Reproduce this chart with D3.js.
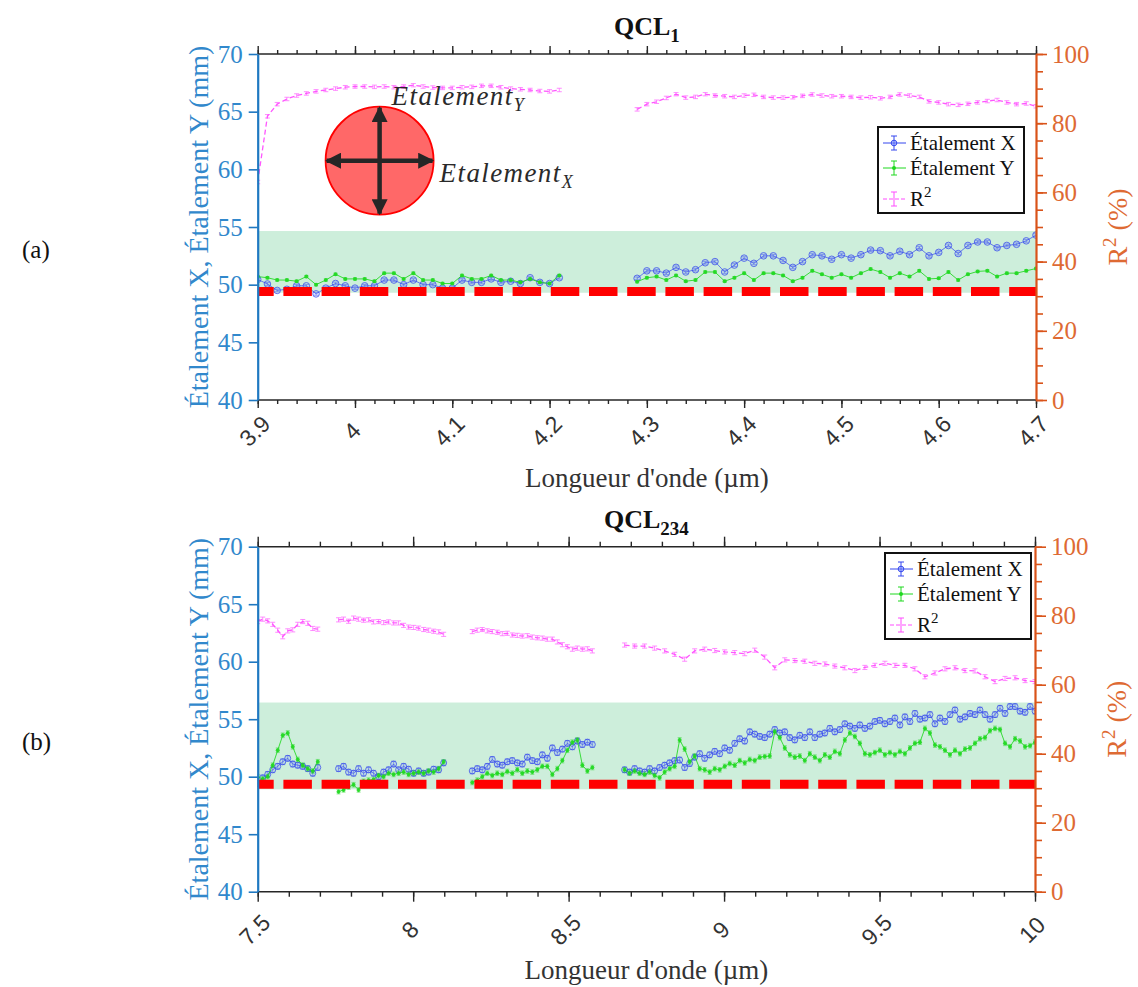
<!DOCTYPE html>
<html><head><meta charset="utf-8">
<script src="https://cdn.jsdelivr.net/npm/d3@7"></script>
<style>body{margin:0;background:#fff}svg{display:block}</style>
</head><body>
<svg id="c" width="1138" height="987"></svg>
<script>
// ---------------- DATA ----------------
// Panel (a) QCL1 : wavelength segments (µm)
const qcl1Start = [3.90, 4.29];
const qcl1Step = [0.01, 0.01];
const qcl1EtalX = [
  [50.46,50.06,49.5,49.6,49.9,49.9,49.2,49.7,50.1,49.9,49.7,49.9,49.9,50.4,50.4,50.0,50.4,50.0,50.0,49.7,49.7,50.4,50.2,50.2,50.5,50.2,50.3,50.1,50.6,50.2,50.1,50.6],
  [50.55,51.2,51.2,51.0,51.5,51.1,51.3,51.9,52.0,51.1,51.7,52.3,51.85,52.5,52.5,52.1,51.5,52.0,52.6,52.5,52.2,52.6,52.3,52.6,53.0,52.95,52.5,52.9,52.6,53.2,52.5,52.8,53.4,52.7,53.4,53.7,53.7,53.2,53.4,53.5,53.8,54.3]
];
const qcl1EtalY = [
  [50.7,50.6,50.4,50.4,50.3,50.7,50.0,50.4,50.9,50.5,50.5,50.5,50.3,51.0,51.0,50.5,51.0,50.4,50.4,50.1,50.1,50.8,50.5,50.5,50.8,50.4,50.4,50.2,50.5,50.2,50.1,50.8],
  [50.26,50.6,50.7,50.4,50.8,50.3,50.4,51.1,51.1,50.3,50.6,51.0,50.4,51.0,51.0,50.8,50.3,50.6,51.2,50.9,50.6,50.9,50.6,51.0,51.35,51.1,50.6,51.0,50.7,51.2,50.5,50.55,51.1,50.4,50.9,51.15,51.2,50.7,51.0,51.0,51.2,51.4]
];
const qcl1R2Start = [3.90, 4.29];
const qcl1R2Step = [0.01, 0.01];
const qcl1R2 = [
  [63,82,85.5,87,88,88.6,89.2,89.6,90,90.4,90.6,90.6,90.5,90.6,90.4,90.6,91,90.6,90.3,90.2,90.2,90.4,90.5,90.8,90.8,90.4,90,89.8,89.6,89.3,89.2,89.6],
  [84,85.5,86.2,87.3,88.4,87.4,87.6,88.4,88,87.8,87.6,88,88.2,87.6,87.4,87.4,87.5,87.9,88.3,88,87.8,87.8,87.6,87.4,87.5,87.2,87.6,88.3,88,87.6,86.3,86,85.5,85.3,85.6,86,86.4,86.7,86,85.5,85.7,84.9]
];
const qcl1Band = [49.3, 54.65];      // shaded tolerance band (mm)
const qcl1Limit = 49.4;              // red dashed threshold (mm)
const qcl1XMajor = [3.9,4.0,4.1,4.2,4.3,4.4,4.5,4.6,4.7];

// Panel (b) QCL234
const qcl234Start = [7.50, 7.76, 8.19, 8.68];
const qcl234Step = [0.0161, 0.0161, 0.0161, 0.0161];
const qcl234EtalX = [
  [49.4,49.9,50.2,50.6,50.9,51.3,51.6,51.1,51.0,50.9,50.7,50.3,50.8],
  [50.7,50.9,50.4,50.3,50.7,50.3,50.6,50.3,50.0,50.4,50.6,51.1,50.6,50.9,50.65,50.3,50.5,50.3,50.4,50.65,50.6,51.2],
  [50.5,50.7,50.6,50.9,51.5,51.1,51.0,51.3,51.4,51.2,51.1,51.7,51.4,51.3,51.9,51.6,52.5,52.1,52.4,52.9,52.6,53.1,52.8,53.0,52.8],
  [50.6,50.4,50.7,
   50.5,50.4,50.7,50.5,50.8,51.0,51.2,51.4,51.45,50.8,
   51.15,51.7,52.0,51.6,51.9,52.2,52.0,52.5,52.3,52.9,
   53.3,53.1,53.9,53.7,53.5,53.4,53.7,54.1,53.8,53.9,
   53.4,53.2,53.6,53.4,53.9,53.4,53.7,53.8,54.2,53.9,
   54.1,54.6,54.4,54.2,54.5,54.2,54.4,54.8,54.9,54.6,
   54.8,55.1,54.5,55.2,54.8,55.5,55.0,55.1,55.4,54.6,
   55.1,54.8,55.4,55.8,55.0,55.2,55.5,55.4,55.8,55.4,
   55.0,55.4,55.95,55.5,56.1,56.1,55.7,55.6,56.1,55.7]
];
const qcl234EtalY = [
  [50.0,49.8,50.0,51.0,52.3,53.6,53.8,52.6,51.5,51.0,50.7,50.5,51.3],
  [48.7,48.85,49.1,49.3,48.85,49.6,49.7,49.75,50.1,50.0,50.3,50.2,50.3,50.4,50.2,50.3,50.4,50.3,50.5,50.4,50.7,51.3],
  [49.5,49.7,50.0,50.3,50.1,50.3,50.2,50.45,50.3,50.6,50.3,50.5,50.4,50.6,50.9,50.9,50.2,50.7,51.4,52.3,53.0,53.2,51.0,50.5,50.8],
  [50.6,50.3,50.5,
   50.3,50.2,50.4,50.1,49.9,50.4,50.7,50.9,53.2,52.4,
   51.3,51.8,50.7,50.6,50.4,50.7,50.6,50.9,51.15,51.0,
   51.4,51.2,51.5,51.4,51.7,51.75,51.8,53.9,53.4,52.5,
   51.9,51.7,51.8,51.4,52.0,51.7,51.4,51.9,51.7,52.2,
   52.0,53.2,53.8,53.5,52.9,52.0,51.9,52.1,52.3,51.9,
   52.1,51.9,52.2,52.0,52.5,52.9,53.0,54.2,53.8,52.75,
   52.6,52.3,51.9,52.3,52.0,52.4,52.5,52.9,53.3,53.4,
   54.0,54.2,54.1,52.9,52.6,53.3,53.1,52.6,52.7,53.0]
];
const qcl234R2Start = [7.50, 7.76, 8.19, 8.68];
const qcl234R2Step = [0.0161, 0.0161, 0.0161, 0.0322];
const qcl234R2 = [
  [78.3,79.0,78.5,77.5,75.8,73.9,75.6,75.9,77.5,78.3,77.8,76.3,76.1],
  [78.8,79.0,78.4,79.3,79.0,78.7,78.8,78.2,78.3,78.0,78.2,77.9,77.9,77.2,76.7,76.6,76.4,76.0,75.8,75.5,75.3,74.6],
  [75.4,75.8,76.0,75.6,75.4,75.2,74.8,74.9,74.4,74.3,74.1,74.2,73.8,73.6,73.5,73.2,73.2,72.4,71.6,71.0,70.3,70.6,70.3,70.4,69.8],
  [71.5,71.2,71.2,70.6,69.8,68.8,67.4,69.8,70.3,69.9,69.5,69.3,69.0,70.0,68.0,64.9,67.2,67.0,66.8,66.2,66.0,65.4,64.9,64.1,65.0,65.6,66.2,65.6,65.6,64.6,62.3,63.4,64.6,64.9,64.1,64.0,62.3,60.9,61.8,62.0,61.2,60.9]
];
const qcl234Band = [48.9, 56.45];
const qcl234Limit = 49.35;
const qcl234XMajor = [7.5,8,8.5,9,9.5,10];

const yLeftTicks = [40,45,50,55,60,65,70];
const yRightMajor = [0,20,40,60,80,100];
const legendLabels = ["Étalement X","Étalement Y","R"];

// ---------------- STYLE ----------------
const SERIF = '"Liberation Serif","Times New Roman",serif';
const SANS = '"Liberation Sans",Arial,sans-serif';
const BLUE_AX = '#1f78c1', BLUE_TXT = '#3188cc';
const ORANGE = '#D95319', ORANGE_TXT = '#de6a33';
const C_X = '#3447ee', C_Y = '#1fd81f', C_R2 = '#ff4dff';

const svg = d3.select('#c');
const defs = svg.append('defs');
defs.append('marker').attr('id','ah').attr('viewBox','0 0 10 10').attr('refX',9).attr('refY',5)
  .attr('markerWidth',16).attr('markerHeight',16).attr('markerUnits','userSpaceOnUse')
  .attr('orient','auto-start-reverse')
  .append('path').attr('d','M0,0 L10,5 L0,10 z').attr('fill','#262626');

function segPoints(starts, steps, segs) {
  return segs.map((vals, si) => vals.map((v, i) => ({x: starts[si] + i * steps[si], v})));
}

function drawSeries(g, x, y, segs, st) {
  const line = d3.line().x(d => x(d.x)).y(d => y(d.v));
  segs.forEach(pts => {
    const eb = g.append('g').attr('stroke', st.color).attr('stroke-width', 0.8).attr('opacity', st.ebOp);
    pts.forEach(d => {
      const y1 = y(d.v - st.err), y2 = y(d.v + st.err), cx = x(d.x);
      eb.append('line').attr('x1', cx).attr('x2', cx).attr('y1', y1).attr('y2', y2);
      eb.append('line').attr('x1', cx - st.cap).attr('x2', cx + st.cap).attr('y1', y1).attr('y2', y1);
      eb.append('line').attr('x1', cx - st.cap).attr('x2', cx + st.cap).attr('y1', y2).attr('y2', y2);
    });
    g.append('path').datum(pts).attr('d', line).attr('fill', 'none')
      .attr('stroke', st.color).attr('stroke-width', st.lw).attr('opacity', st.lineOp)
      .attr('stroke-dasharray', st.dash || null);
    if (st.marker === 'o') {
      g.append('g').selectAll('circle').data(pts).enter().append('circle')
        .attr('cx', d => x(d.x)).attr('cy', d => y(d.v)).attr('r', st.r)
        .attr('fill', 'rgba(120,140,255,0.25)').attr('stroke', st.color).attr('stroke-width', 1).attr('opacity', 0.75);
    } else if (st.marker === 'dot') {
      g.append('g').selectAll('circle').data(pts).enter().append('circle')
        .attr('cx', d => x(d.x)).attr('cy', d => y(d.v)).attr('r', st.r)
        .attr('fill', st.color).attr('opacity', 0.9);
    }
  });
}

function panel(cfg) {
  const g = svg.append('g');
  const x = d3.scaleLinear().domain(cfg.xDomain).range([cfg.left, cfg.right]);
  const y = d3.scaleLinear().domain([40, 70]).range([cfg.bottom, cfg.top]);
  const yr = d3.scaleLinear().domain([0, 100]).range([cfg.bottom, cfg.top]);
  const cid = 'clip' + cfg.id;
  defs.append('clipPath').attr('id', cid).append('rect')
    .attr('x', cfg.left).attr('y', cfg.top).attr('width', cfg.right - cfg.left).attr('height', cfg.bottom - cfg.top);
  const plot = g.append('g').attr('clip-path', `url(#${cid})`);

  plot.append('rect').attr('x', x(cfg.xDomain[0])).attr('width', x(cfg.xDomain[1]) - x(cfg.xDomain[0]))
    .attr('y', y(cfg.band[1])).attr('height', y(cfg.band[0]) - y(cfg.band[1])).attr('fill', '#cdeedb');

  drawSeries(plot, x, yr, segPoints(cfg.r2Start, cfg.r2Step, cfg.r2), {color: C_R2, lw: 1.3, dash: '5,3', err: cfg.r2err, cap: 2.5, ebOp: 0.8, lineOp: 0.95, marker: null});
  drawSeries(plot, x, y, segPoints(cfg.start, cfg.step, cfg.ex), {color: C_X, lw: 1, err: cfg.xerr, cap: 2.5, ebOp: 0.6, lineOp: 0.7, marker: 'o', r: cfg.r});
  drawSeries(plot, x, y, segPoints(cfg.start, cfg.step, cfg.ey), {color: C_Y, lw: 1, err: cfg.yerr, cap: 2, ebOp: 0.6, lineOp: 0.85, marker: 'dot', r: 2});

  plot.append('line').attr('x1', x(cfg.xDomain[0])).attr('x2', x(cfg.xDomain[1]))
    .attr('y1', y(cfg.limit)).attr('y2', y(cfg.limit))
    .attr('stroke', '#ff0000').attr('stroke-width', 9).attr('stroke-dasharray', '28.5,9.7').attr('stroke-dashoffset', 12.5);

  const ax = g.append('g');
  function xt(vals, len, bottom) {
    const a = (bottom ? d3.axisBottom(x) : d3.axisTop(x)).tickValues(vals).tickSize(len).tickSizeOuter(0).tickFormat('');
    const s = ax.append('g').attr('transform', `translate(0,${bottom ? cfg.bottom : cfg.top})`).call(a);
    s.select('.domain').remove();
    s.selectAll('line').attr('stroke', '#262626').attr('stroke-width', 1.4);
  }
  xt(cfg.xMinor, cfg.minorLen, true); xt(cfg.xMajor, cfg.majorLen, true);
  xt(cfg.xMinor, cfg.minorLen, false); xt(cfg.xMajor, cfg.majorLen, false);
  ax.append('line').attr('x1', cfg.left).attr('x2', cfg.right).attr('y1', cfg.top).attr('y2', cfg.top).attr('stroke', '#262626').attr('stroke-width', 1.6);
  ax.append('line').attr('x1', cfg.left).attr('x2', cfg.right).attr('y1', cfg.bottom).attr('y2', cfg.bottom).attr('stroke', '#262626').attr('stroke-width', 1.6);
  ax.selectAll(null).data(cfg.xMajor).enter().append('text')
    .attr('transform', d => `translate(${x(d) - 3},${cfg.bottom + cfg.labelOff}) rotate(-45)`)
    .attr('text-anchor', 'middle').attr('dy', '0.35em')
    .attr('font-family', SANS).attr('font-size', 23).attr('fill', '#333')
    .text(d => String(+d.toFixed(1)));

  const la = ax.append('g').attr('transform', `translate(${cfg.left},0)`)
    .call(d3.axisLeft(y).tickValues(yLeftTicks).tickSize(9).tickPadding(6).tickSizeOuter(0));
  la.select('.domain').attr('stroke', BLUE_AX).attr('stroke-width', 2.2);
  la.selectAll('.tick line').attr('stroke', BLUE_AX).attr('stroke-width', 1.6);
  la.selectAll('text').attr('font-family', SERIF).attr('font-size', 25).attr('fill', BLUE_TXT);

  const rMinor = d3.range(0, 101, 5);
  const ra = ax.append('g').attr('transform', `translate(${cfg.right},0)`);
  ra.call(d3.axisRight(yr).tickValues(rMinor).tickSize(7).tickFormat('').tickSizeOuter(0));
  const ra2 = ax.append('g').attr('transform', `translate(${cfg.right},0)`)
    .call(d3.axisRight(yr).tickValues(yRightMajor).tickSize(11).tickPadding(5).tickSizeOuter(0));
  ra.select('.domain').attr('stroke', ORANGE).attr('stroke-width', 2.2);
  ra2.select('.domain').remove();
  ra.selectAll('.tick line').attr('stroke', ORANGE).attr('stroke-width', 1.6);
  ra2.selectAll('.tick line').attr('stroke', ORANGE).attr('stroke-width', 1.6);
  ra2.selectAll('text').attr('font-family', SERIF).attr('font-size', 25).attr('fill', ORANGE_TXT);

  const cy = (cfg.top + cfg.bottom) / 2;
  ax.append('text').attr('transform', `translate(${cfg.left - 50},${cy}) rotate(-90)`)
    .attr('text-anchor', 'middle').attr('font-family', SERIF).attr('font-size', 28).attr('fill', BLUE_TXT)
    .text('Étalement X, Étalement Y (mm)');
  const rt = ax.append('text').attr('transform', `translate(${cfg.right + 91},${cy}) rotate(-90)`)
    .attr('text-anchor', 'middle').attr('font-family', SERIF).attr('font-size', 28).attr('fill', ORANGE_TXT);
  rt.append('tspan').text('R');
  rt.append('tspan').attr('dy', -11).attr('font-size', 19).text('2');
  rt.append('tspan').attr('dy', 11).text(' (%)');

  ax.append('text').attr('x', (cfg.left + cfg.right) / 2).attr('y', cfg.bottom + 87)
    .attr('text-anchor', 'middle').attr('font-family', SERIF).attr('font-size', 27).attr('fill', '#333')
    .text("Longueur d'onde (µm)");

  const tt = ax.append('text').attr('x', (cfg.left + cfg.right) / 2).attr('y', cfg.top - 19)
    .attr('text-anchor', 'middle').attr('font-family', SERIF).attr('font-weight', 'bold').attr('font-size', 26).attr('fill', '#111');
  tt.append('tspan').text('QCL');
  tt.append('tspan').attr('dy', 7).attr('font-size', 19).text(cfg.sub);

  ax.append('text').attr('x', 22).attr('y', cy + 31).attr('font-family', SERIF).attr('font-size', 25).attr('fill', '#111').text(cfg.letter);

  const L = ax.append('g').attr('transform', `translate(${cfg.legX},${cfg.legY})`);
  L.append('rect').attr('width', 146).attr('height', 86).attr('fill', '#fff').attr('stroke', '#111').attr('stroke-width', 2);
  const rows = [23, 48, 79];
  const colors = [C_X, C_Y, C_R2];
  rows.forEach((ry, i) => {
    const my = ry - 7;
    L.append('line').attr('x1', 5).attr('x2', 28).attr('y1', my).attr('y2', my).attr('stroke', colors[i])
      .attr('stroke-width', 1).attr('stroke-dasharray', i === 2 ? '4,2' : null);
    L.append('line').attr('x1', 16).attr('x2', 16).attr('y1', my - 7).attr('y2', my + 7).attr('stroke', colors[i]).attr('stroke-width', 1);
    L.append('line').attr('x1', 13).attr('x2', 19).attr('y1', my - 7).attr('y2', my - 7).attr('stroke', colors[i]).attr('stroke-width', 1);
    L.append('line').attr('x1', 13).attr('x2', 19).attr('y1', my + 7).attr('y2', my + 7).attr('stroke', colors[i]).attr('stroke-width', 1);
    if (i === 0) L.append('circle').attr('cx', 16).attr('cy', my).attr('r', 2.8).attr('fill', 'rgba(120,140,255,0.4)').attr('stroke', C_X);
    if (i === 1) L.append('circle').attr('cx', 16).attr('cy', my).attr('r', 2).attr('fill', C_Y);
    const t = L.append('text').attr('x', 32).attr('y', ry).attr('font-family', SERIF).attr('font-size', 21).attr('fill', '#111');
    t.append('tspan').text(legendLabels[i]);
    if (i === 2) t.append('tspan').attr('dy', -9).attr('font-size', 15).text('2');
  });
  return {x, y};
}

const p1 = panel({
  id: 'a', letter: '(a)', sub: '1',
  xDomain: [3.9, 4.7], left: 257.7, right: 1036, top: 54, bottom: 400,
  start: qcl1Start, step: qcl1Step, ex: qcl1EtalX, ey: qcl1EtalY,
  r2Start: qcl1R2Start, r2Step: qcl1R2Step, r2: qcl1R2,
  xerr: 0.12, yerr: 0.1, r2err: 0.5, r: 3.3,
  band: qcl1Band, limit: qcl1Limit,
  xMajor: qcl1XMajor, xMinor: d3.range(0, 41).map(i => 3.9 + i * 0.02),
  majorLen: 8, minorLen: 4, labelOff: 31,
  legX: 878, legY: 127
});

const p2 = panel({
  id: 'b', letter: '(b)', sub: '234',
  xDomain: [7.5, 10], left: 257.7, right: 1035, top: 546.7, bottom: 891.7,
  start: qcl234Start, step: qcl234Step, ex: qcl234EtalX, ey: qcl234EtalY,
  r2Start: qcl234R2Start, r2Step: qcl234R2Step, r2: qcl234R2,
  xerr: 0.25, yerr: 0.2, r2err: 0.6, r: 3,
  band: qcl234Band, limit: qcl234Limit,
  xMajor: qcl234XMajor, xMinor: d3.range(0, 26).map(i => 7.5 + i * 0.1),
  majorLen: 10, minorLen: 5, labelOff: 38,
  legX: 885, legY: 553
});

(function inset() {
  const {x, y} = p1;
  const cx = x(4.0253), cy = y(60.75), r = 54;
  const g = svg.append('g');
  g.append('circle').attr('cx', cx).attr('cy', cy).attr('r', r).attr('fill', '#ff6868').attr('stroke', '#ff0000').attr('stroke-width', 1.8);
  g.append('line').attr('x1', cx).attr('x2', cx).attr('y1', cy - r + 1).attr('y2', cy + r - 1)
    .attr('stroke', '#262626').attr('stroke-width', 4.5).attr('marker-start', 'url(#ah)').attr('marker-end', 'url(#ah)');
  g.append('line').attr('x1', cx - r + 1).attr('x2', cx + r - 1).attr('y1', cy).attr('y2', cy)
    .attr('stroke', '#262626').attr('stroke-width', 4.5).attr('marker-start', 'url(#ah)').attr('marker-end', 'url(#ah)');
  const t1 = g.append('text').attr('x', cx + 12).attr('y', cy - 56).attr('font-family', SERIF).attr('font-style', 'italic')
    .attr('font-size', 27).attr('letter-spacing', 1.4).attr('fill', '#2a2a2a');
  t1.append('tspan').text('Etalement');
  t1.append('tspan').attr('dy', 6).attr('font-size', 18).text('Y');
  const t2 = g.append('text').attr('x', cx + 60).attr('y', cy + 21).attr('font-family', SERIF).attr('font-style', 'italic')
    .attr('font-size', 27).attr('letter-spacing', 1.4).attr('fill', '#2a2a2a');
  t2.append('tspan').text('Etalement');
  t2.append('tspan').attr('dy', 6).attr('font-size', 18).text('X');
})();
</script>
</body></html>
